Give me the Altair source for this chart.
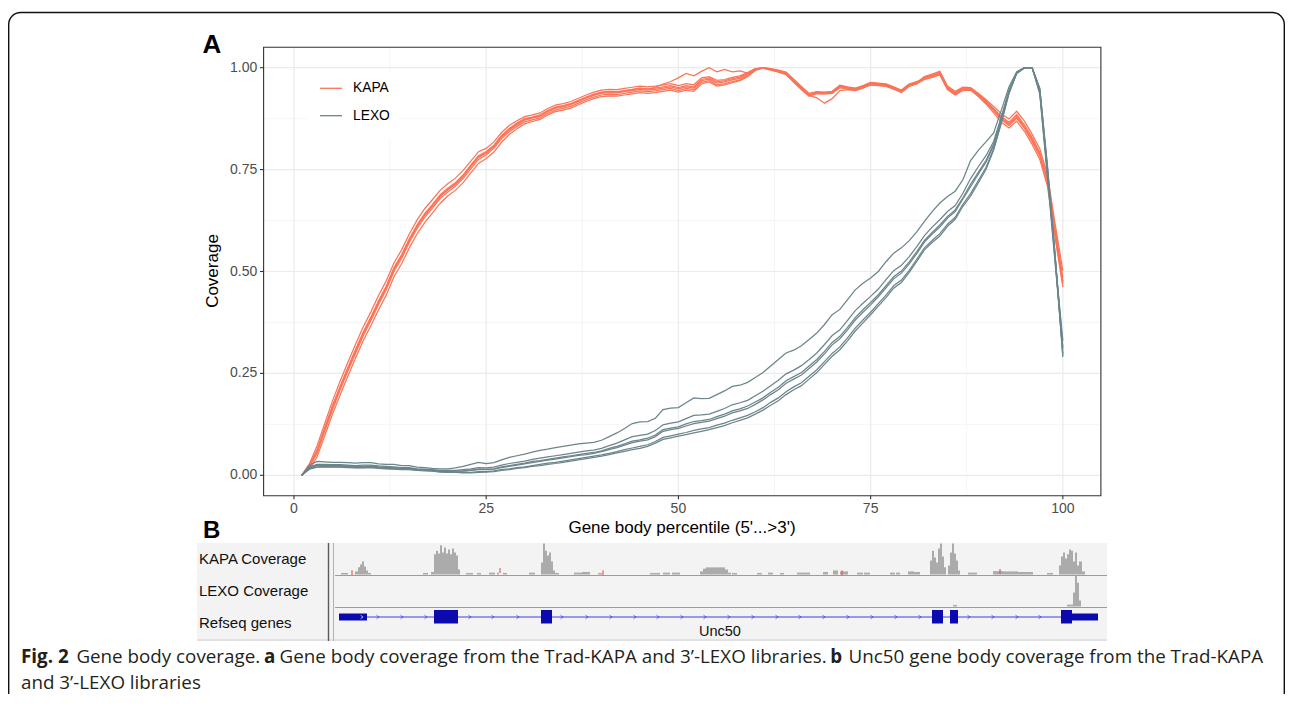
import altair as alt
import pandas as pd

# ---------------- Panel A data: gene body coverage, percentile 1..100 ----------------
pct = list(range(1, 101))

kapa_1 = [0.000,0.022,0.058,0.112,0.166,0.214,0.260,0.304,0.347,0.384,0.424,0.460,0.505,0.537,0.576,0.610,0.638,0.660,0.684,0.700,
          0.714,0.733,0.757,0.780,0.790,0.806,0.830,0.847,0.860,0.871,0.876,0.881,0.892,0.900,0.904,0.909,0.917,0.925,0.932,0.937,
          0.939,0.938,0.941,0.944,0.947,0.945,0.947,0.950,0.953,0.948,0.953,0.950,0.968,0.972,0.962,0.965,0.970,0.974,0.983,0.996,
          1.000,0.996,0.992,0.986,0.968,0.950,0.933,0.938,0.937,0.939,0.954,0.950,0.947,0.953,0.961,0.959,0.957,0.950,0.942,0.957,
          0.963,0.975,0.980,0.987,0.950,0.937,0.948,0.948,0.933,0.917,0.897,0.876,0.862,0.880,0.855,0.823,0.787,0.722,0.597,0.475]
kapa_2 = [0.000,0.028,0.072,0.127,0.182,0.231,0.277,0.321,0.364,0.401,0.441,0.477,0.521,0.553,0.592,0.626,0.654,0.676,0.699,0.715,
          0.729,0.748,0.771,0.794,0.802,0.818,0.841,0.858,0.870,0.880,0.884,0.889,0.900,0.908,0.912,0.917,0.925,0.933,0.940,0.945,
          0.947,0.946,0.949,0.952,0.955,0.953,0.955,0.958,0.961,0.956,0.961,0.958,0.975,0.978,0.969,0.971,0.976,0.980,0.988,0.998,
          0.999,0.994,0.989,0.983,0.964,0.946,0.930,0.936,0.935,0.937,0.951,0.947,0.945,0.951,0.958,0.957,0.955,0.948,0.940,0.955,
          0.961,0.978,0.984,0.991,0.955,0.942,0.952,0.951,0.937,0.922,0.905,0.887,0.874,0.893,0.869,0.837,0.801,0.738,0.616,0.502]
kapa_3 = [0.000,0.016,0.045,0.097,0.150,0.197,0.243,0.287,0.330,0.367,0.406,0.442,0.487,0.519,0.558,0.592,0.620,0.643,0.667,0.685,
          0.699,0.718,0.742,0.765,0.777,0.793,0.817,0.836,0.850,0.862,0.868,0.873,0.884,0.892,0.896,0.901,0.909,0.917,0.924,0.929,
          0.931,0.930,0.933,0.936,0.939,0.937,0.939,0.942,0.945,0.940,0.945,0.942,0.960,0.965,0.955,0.958,0.963,0.968,0.978,0.993,
          1.000,0.998,0.994,0.989,0.972,0.954,0.937,0.941,0.940,0.942,0.957,0.953,0.950,0.956,0.964,0.962,0.960,0.953,0.945,0.960,
          0.966,0.972,0.976,0.982,0.946,0.933,0.944,0.945,0.929,0.911,0.889,0.866,0.852,0.869,0.844,0.812,0.775,0.709,0.582,0.462]
kapa_4 = [0.000,0.024,0.062,0.116,0.170,0.218,0.264,0.308,0.351,0.388,0.428,0.464,0.509,0.541,0.580,0.614,0.642,0.664,0.688,0.704,
          0.718,0.737,0.761,0.784,0.794,0.810,0.834,0.851,0.864,0.875,0.879,0.884,0.895,0.903,0.907,0.912,0.920,0.928,0.935,0.940,
          0.942,0.941,0.944,0.947,0.950,0.948,0.950,0.953,0.956,0.951,0.956,0.953,0.971,0.975,0.965,0.968,0.973,0.977,0.986,0.997,
          1.000,0.997,0.993,0.987,0.970,0.952,0.935,0.940,0.939,0.941,0.956,0.952,0.949,0.955,0.963,0.961,0.959,0.952,0.944,0.959,
          0.965,0.977,0.982,0.989,0.952,0.939,0.950,0.950,0.935,0.919,0.900,0.880,0.866,0.885,0.860,0.829,0.792,0.728,0.604,0.485]
kapa_5 = [0.000,0.020,0.054,0.108,0.161,0.209,0.255,0.299,0.342,0.379,0.419,0.455,0.500,0.532,0.571,0.605,0.633,0.655,0.679,0.695,
          0.709,0.728,0.752,0.775,0.786,0.802,0.826,0.843,0.856,0.867,0.872,0.877,0.888,0.896,0.900,0.905,0.913,0.921,0.928,0.933,
          0.935,0.934,0.937,0.940,0.943,0.941,0.943,0.946,0.949,0.944,0.949,0.946,0.964,0.968,0.958,0.961,0.966,0.970,0.980,0.994,
          0.999,0.995,0.990,0.984,0.966,0.948,0.932,0.926,0.913,0.924,0.944,0.946,0.944,0.950,0.958,0.956,0.954,0.947,0.939,0.954,
          0.960,0.971,0.977,0.984,0.947,0.935,0.946,0.946,0.931,0.914,0.894,0.873,0.858,0.876,0.851,0.819,0.783,0.718,0.591,0.470]
kapa_6 = [0.000,0.023,0.060,0.114,0.168,0.216,0.262,0.306,0.349,0.386,0.426,0.462,0.507,0.539,0.578,0.612,0.640,0.662,0.686,0.702,
          0.716,0.735,0.759,0.782,0.792,0.808,0.832,0.849,0.862,0.873,0.878,0.883,0.894,0.902,0.906,0.911,0.919,0.927,0.934,0.939,
          0.941,0.940,0.943,0.946,0.949,0.947,0.952,0.960,0.966,0.975,0.986,0.980,0.991,1.000,0.990,0.996,0.990,0.992,0.987,0.997,
          1.000,0.996,0.992,0.986,0.968,0.950,0.933,0.938,0.937,0.939,0.954,0.950,0.947,0.953,0.961,0.959,0.957,0.950,0.942,0.957,
          0.963,0.975,0.980,0.987,0.950,0.937,0.948,0.948,0.933,0.917,0.897,0.876,0.862,0.880,0.855,0.823,0.787,0.722,0.597,0.475]

lexo_1 = [0.000,0.025,0.034,0.033,0.032,0.032,0.031,0.030,0.031,0.031,0.028,0.027,0.027,0.024,0.024,0.020,0.019,0.017,0.016,0.016,
          0.018,0.022,0.027,0.032,0.029,0.031,0.038,0.044,0.048,0.052,0.057,0.061,0.064,0.068,0.071,0.074,0.077,0.079,0.081,0.086,
          0.095,0.104,0.115,0.127,0.131,0.132,0.140,0.161,0.165,0.166,0.178,0.190,0.188,0.189,0.198,0.207,0.218,0.221,0.228,0.240,
          0.252,0.268,0.284,0.300,0.307,0.318,0.333,0.349,0.370,0.394,0.407,0.431,0.455,0.471,0.484,0.500,0.524,0.545,0.558,0.575,
          0.597,0.623,0.647,0.668,0.684,0.697,0.725,0.772,0.797,0.818,0.840,0.896,0.953,0.990,1.000,1.000,0.935,0.730,0.520,0.315]
lexo_2 = [0.000,0.021,0.027,0.027,0.026,0.026,0.025,0.024,0.025,0.025,0.023,0.022,0.021,0.019,0.019,0.016,0.015,0.014,0.012,0.012,
          0.012,0.014,0.016,0.019,0.018,0.020,0.025,0.029,0.032,0.035,0.039,0.042,0.045,0.048,0.051,0.054,0.057,0.060,0.062,0.066,
          0.073,0.079,0.087,0.095,0.098,0.101,0.110,0.124,0.128,0.131,0.139,0.147,0.148,0.150,0.157,0.164,0.173,0.178,0.184,0.195,
          0.206,0.220,0.233,0.249,0.258,0.269,0.284,0.300,0.321,0.343,0.357,0.380,0.404,0.422,0.439,0.457,0.480,0.502,0.515,0.536,
          0.561,0.588,0.609,0.627,0.647,0.662,0.692,0.728,0.757,0.784,0.819,0.880,0.945,0.988,1.000,1.000,0.942,0.745,0.530,0.330]
lexo_3 = [0.000,0.018,0.025,0.025,0.024,0.024,0.023,0.022,0.022,0.023,0.021,0.020,0.019,0.017,0.017,0.015,0.014,0.012,0.011,0.010,
          0.010,0.011,0.013,0.015,0.015,0.016,0.021,0.024,0.027,0.030,0.034,0.036,0.039,0.042,0.045,0.048,0.051,0.054,0.056,0.060,
          0.066,0.071,0.077,0.084,0.087,0.091,0.099,0.112,0.116,0.119,0.126,0.132,0.134,0.137,0.144,0.150,0.158,0.163,0.170,0.180,
          0.190,0.204,0.216,0.232,0.242,0.252,0.268,0.284,0.304,0.326,0.341,0.363,0.387,0.406,0.424,0.443,0.465,0.487,0.501,0.523,
          0.549,0.576,0.596,0.614,0.635,0.651,0.681,0.714,0.743,0.772,0.812,0.875,0.942,0.987,1.000,1.000,0.940,0.740,0.528,0.300]
lexo_4 = [0.000,0.017,0.024,0.024,0.023,0.023,0.022,0.021,0.021,0.022,0.020,0.019,0.018,0.017,0.017,0.014,0.013,0.012,0.010,0.009,
          0.010,0.010,0.012,0.014,0.014,0.015,0.019,0.022,0.025,0.028,0.031,0.034,0.037,0.040,0.043,0.046,0.049,0.051,0.054,0.058,
          0.063,0.068,0.074,0.080,0.084,0.087,0.095,0.108,0.112,0.115,0.121,0.127,0.130,0.133,0.139,0.145,0.153,0.158,0.164,0.174,
          0.185,0.198,0.210,0.226,0.236,0.246,0.262,0.278,0.298,0.320,0.335,0.357,0.381,0.400,0.418,0.438,0.460,0.482,0.496,0.518,
          0.544,0.572,0.592,0.609,0.631,0.647,0.678,0.708,0.739,0.768,0.809,0.873,0.941,0.987,1.000,1.000,0.945,0.750,0.535,0.310]
lexo_5 = [0.000,0.016,0.021,0.022,0.021,0.021,0.020,0.019,0.019,0.020,0.018,0.017,0.016,0.015,0.015,0.013,0.012,0.011,0.009,0.008,
          0.008,0.007,0.007,0.009,0.009,0.011,0.014,0.016,0.019,0.021,0.024,0.027,0.030,0.032,0.035,0.038,0.041,0.044,0.047,0.050,
          0.054,0.058,0.063,0.067,0.071,0.075,0.083,0.093,0.097,0.101,0.105,0.110,0.114,0.117,0.123,0.128,0.135,0.141,0.147,0.156,
          0.166,0.179,0.190,0.205,0.217,0.227,0.243,0.259,0.279,0.299,0.315,0.337,0.361,0.381,0.400,0.421,0.442,0.465,0.479,0.502,
          0.530,0.558,0.576,0.593,0.616,0.633,0.665,0.691,0.723,0.755,0.801,0.866,0.938,0.986,0.999,1.000,0.948,0.755,0.538,0.295]
lexo_6 = [0.000,0.015,0.020,0.021,0.020,0.020,0.019,0.018,0.018,0.019,0.017,0.016,0.015,0.014,0.014,0.012,0.011,0.010,0.008,0.007,
          0.007,0.006,0.006,0.007,0.008,0.009,0.012,0.014,0.017,0.019,0.022,0.024,0.027,0.029,0.032,0.035,0.038,0.041,0.044,0.047,
          0.051,0.055,0.059,0.063,0.066,0.071,0.079,0.088,0.092,0.096,0.100,0.104,0.108,0.112,0.117,0.122,0.129,0.135,0.141,0.150,
          0.160,0.172,0.183,0.198,0.210,0.220,0.236,0.252,0.272,0.292,0.308,0.330,0.354,0.374,0.394,0.415,0.436,0.459,0.473,0.497,
          0.525,0.553,0.571,0.587,0.611,0.628,0.660,0.685,0.717,0.750,0.798,0.864,0.937,0.986,0.999,1.000,0.950,0.760,0.540,0.290]

libraries = ["KAPA", "LEXO"]
lib_colors = ["#FA7458", "#6B858B"]

x_major = [0, 25, 50, 75, 100]
x_minor = [12.5, 37.5, 62.5, 87.5]
x_labels = ["0", "25", "50", "75", "100"]
y_major = [0.0, 0.25, 0.5, 0.75, 1.0]
y_minor = [0.125, 0.375, 0.625, 0.875]
y_labels = ["0.00", "0.25", "0.50", "0.75", "1.00"]

# ---------------- Panel B data: genome browser tracks (relative position) ----------------
kapa_cov_start = [6,20,23,25,27,29,31,33,88,96,99,101,103,105,107,109,111,113,115,117,119,121,123,131,142,154,162,168,194,
                  206,208,210,212,214,216,218,220,239,247,263,315,328,337,365,368,371,390,393,397,422,433,445,462,468,488,498,
                  505,522,529,555,561,573,579,595,597,599,601,603,605,607,609,613,615,617,619,621,623,633,658,668,683,712,
                  724,726,728,730,732,734,736,738,740,742,744,747]
kapa_cov_end = [13,23,25,27,29,31,33,36,93,99,101,103,105,107,109,111,113,115,117,119,121,123,125,138,146,160,164,172,200,
                208,210,212,214,216,218,220,224,247,255,267,325,335,345,368,371,390,393,396,402,427,438,449,468,475,493,503,
                513,528,535,560,565,579,585,597,599,601,603,605,607,609,611,615,617,619,621,623,625,642,668,683,698,718,
                726,728,730,732,734,736,738,740,742,744,747,750]
kapa_cov_h = [0.05,0.10,0.23,0.32,0.42,0.26,0.13,0.05,0.05,0.08,0.65,0.77,0.68,0.94,0.71,0.87,0.68,0.81,0.65,0.84,0.71,0.61,0.16,
              0.05,0.05,0.06,0.06,0.05,0.06,0.39,1.00,0.77,0.61,0.71,0.42,0.13,0.05,0.06,0.08,0.05,0.05,0.06,0.06,0.10,0.19,
              0.23,0.16,0.06,0.05,0.05,0.06,0.05,0.06,0.06,0.08,0.13,0.10,0.06,0.06,0.06,0.06,0.10,0.08,0.45,0.77,0.55,0.39,
              0.84,1.00,0.58,0.23,0.29,0.71,1.00,0.68,0.45,0.13,0.06,0.11,0.10,0.08,0.05,0.29,0.58,0.71,0.52,0.65,0.81,0.77,
              0.42,0.71,0.29,0.42,0.10]
kapa_mis_pos = [17, 165, 268, 507, 665]
kapa_mis_h = [0.06, 0.13, 0.06, 0.06, 0.10]
lexo_cov_start = [618, 732, 738, 740, 742, 744]
lexo_cov_end = [622, 738, 740, 742, 744, 746]
lexo_cov_h = [0.05, 0.06, 0.45, 1.00, 0.77, 0.19]
utr_start = [4, 737]
utr_end = [32, 763]
exon_start = [99, 206, 597, 615, 726]
exon_end = [123, 217, 608, 623, 737]
intron_start = [32]
intron_end = [726]
strand_marks = [43, 67, 91, 135, 158, 183, 227, 252, 276, 300, 323, 347, 370, 394, 418, 442, 465, 489, 513, 537,
                561, 585, 634, 658, 682, 705]
track_names = ["KAPA Coverage", "LEXO Coverage", "Refseq genes"]

caption_parts = ["Fig. 2", "Gene body coverage.", "a",
                 "Gene body coverage from the Trad-KAPA and 3\u2019-LEXO libraries.", "b",
                 "Unc50 gene body coverage from the Trad-KAPA", "and 3\u2019-LEXO libraries"]

# ---------------- tables ----------------
rows = []
for lib, names in (("KAPA", [kapa_1, kapa_2, kapa_3, kapa_4, kapa_5, kapa_6]),
                   ("LEXO", [lexo_1, lexo_2, lexo_3, lexo_4, lexo_5, lexo_6])):
    for i, ser in enumerate(names):
        for p, v in zip(pct, ser):
            rows.append({"pct": p, "cov": v, "lib": lib, "sample": f"{lib}{i+1}"})
cov_df = pd.DataFrame(rows)

one = pd.DataFrame({"k": [0]})

W, H = 1277, 686
FONT = "Liberation Sans"

xA = alt.Scale(domain=[-3.95, 104.95], range=[255.6, 1092.9], nice=False, zero=False)
yA = alt.Scale(domain=[-0.05, 1.05], range=[487.7, 39.3], nice=False, zero=False)
xB = alt.Scale(domain=[0, 770], range=[327, 1097], nice=False, zero=False)
yK = alt.Scale(domain=[0, 1], range=[566.5, 535.5], nice=False, zero=False)
yL = alt.Scale(domain=[0, 1], range=[598.5, 567.5], nice=False, zero=False)
cA = alt.Scale(domain=libraries, range=lib_colors)


def box(x, x2, y, y2, **kw):
    return alt.Chart(one).mark_rect(**kw).encode(
        x=alt.value(x), x2=alt.value(x2), y=alt.value(y), y2=alt.value(y2))


def hline(x, x2, y, **kw):
    return alt.Chart(one).mark_rule(**kw).encode(
        x=alt.value(x), x2=alt.value(x2), y=alt.value(y))


def vline(x, y, y2, **kw):
    return alt.Chart(one).mark_rule(**kw).encode(
        x=alt.value(x), y=alt.value(y), y2=alt.value(y2))


def label(s, x, y, **kw):
    return alt.Chart(one).mark_text(text=s, **kw).encode(x=alt.value(x), y=alt.value(y))


layers = []

# ---- Panel A ----
layers.append(box(255.6, 1092.9, 39.3, 487.7, fill="white"))
layers.append(alt.Chart(pd.DataFrame({"v": x_minor})).mark_rule(color="#F0F0F0", strokeWidth=0.7).encode(
    x=alt.X("v:Q", scale=xA, axis=None), y=alt.value(39.3), y2=alt.value(487.7)))
layers.append(alt.Chart(pd.DataFrame({"v": y_minor})).mark_rule(color="#F0F0F0", strokeWidth=0.7).encode(
    y=alt.Y("v:Q", scale=yA, axis=None), x=alt.value(255.6), x2=alt.value(1092.9)))
layers.append(alt.Chart(pd.DataFrame({"v": x_major})).mark_rule(color="#EBEBEB", strokeWidth=1.2).encode(
    x=alt.X("v:Q", scale=xA, axis=None), y=alt.value(39.3), y2=alt.value(487.7)))
layers.append(alt.Chart(pd.DataFrame({"v": y_major})).mark_rule(color="#EBEBEB", strokeWidth=1.2).encode(
    y=alt.Y("v:Q", scale=yA, axis=None), x=alt.value(255.6), x2=alt.value(1092.9)))

for lib in libraries:
    layers.append(alt.Chart(cov_df[cov_df["lib"] == lib]).mark_line(strokeWidth=1.25).encode(
        x=alt.X("pct:Q", scale=xA, axis=None),
        y=alt.Y("cov:Q", scale=yA, axis=None),
        color=alt.Color("lib:N", scale=cA, legend=None),
        detail="sample:N"))

layers.append(box(255.6, 1092.9, 39.3, 487.7, fill=None, stroke="#333333", strokeWidth=1.1))

# ticks and tick labels
layers.append(alt.Chart(pd.DataFrame({"v": x_major})).mark_rule(color="#333333", strokeWidth=1.1).encode(
    x=alt.X("v:Q", scale=xA, axis=None), y=alt.value(487.7), y2=alt.value(491.3)))
layers.append(alt.Chart(pd.DataFrame({"v": y_major})).mark_rule(color="#333333", strokeWidth=1.1).encode(
    y=alt.Y("v:Q", scale=yA, axis=None), x=alt.value(252.0), x2=alt.value(255.6)))
layers.append(alt.Chart(pd.DataFrame({"v": x_major, "t": x_labels})).mark_text(
    font=FONT, fontSize=14, color="#4D4D4D", baseline="middle", align="center").encode(
    x=alt.X("v:Q", scale=xA, axis=None), y=alt.value(500.5), text="t:N"))
layers.append(alt.Chart(pd.DataFrame({"v": y_major, "t": y_labels})).mark_text(
    font=FONT, fontSize=14, color="#4D4D4D", baseline="middle", align="right").encode(
    y=alt.Y("v:Q", scale=yA, axis=None), x=alt.value(249.2), text="t:N"))

layers.append(label("Gene body percentile (5'...>3')", 674, 520, font=FONT, fontSize=17,
                    color="#000000", align="center", baseline="middle"))
layers.append(label("Coverage", 205, 263, font=FONT, fontSize=17, color="#000000",
                    align="center", baseline="middle", angle=270))

# legend
layers.append(box(299, 390, 65, 132, fill="white"))
legend_y = [80.3, 107.7]
for lib, col, ly in zip(libraries, lib_colors, legend_y):
    layers.append(hline(312, 334, ly, color=col, strokeWidth=1.3))
    layers.append(label(lib, 345, ly, font=FONT, fontSize=13.8, color="#000000",
                        align="left", baseline="middle"))

# panel letters
layers.append(label("A", 204, 45.3, font=FONT, fontSize=26, fontWeight="bold", color="#000000",
                    align="center", baseline="alphabetic"))
layers.append(label("B", 203.7, 530.3, font=FONT, fontSize=24, fontWeight="bold", color="#000000",
                    align="center", baseline="alphabetic"))

# ---- Panel B ----
layers.append(box(189, 1099, 535, 633, fill="#F3F3F3"))
layers.append(hline(327, 1099, 567.5, color="#9C9C9C", strokeWidth=1))
layers.append(hline(327, 1099, 599.5, color="#9C9C9C", strokeWidth=1))
layers.append(hline(189, 1099, 632, color="#D0D0D0", strokeWidth=1))
layers.append(vline(320.5, 535, 633, color="#5A5A5A", strokeWidth=1.4))
layers.append(vline(325.5, 535, 633, color="#B0B0B0", strokeWidth=1))

layers.append(alt.Chart(pd.DataFrame({"s": kapa_cov_start, "e": kapa_cov_end, "h": kapa_cov_h})).mark_rect(
    color="#ABABAB").encode(
    x=alt.X("s:Q", scale=xB, axis=None), x2="e:Q",
    y=alt.Y("h:Q", scale=yK, axis=None), y2=alt.datum(0)))
layers.append(alt.Chart(pd.DataFrame({"s": kapa_mis_pos, "h": kapa_mis_h})).mark_tick(
    color="#D9534F", thickness=1.5, orient="vertical").encode(
    x=alt.X("s:Q", scale=xB, axis=None), y=alt.Y("h:Q", scale=yK, axis=None)))
layers.append(alt.Chart(pd.DataFrame({"s": lexo_cov_start, "e": lexo_cov_end, "h": lexo_cov_h})).mark_rect(
    color="#ABABAB").encode(
    x=alt.X("s:Q", scale=xB, axis=None), x2="e:Q",
    y=alt.Y("h:Q", scale=yL, axis=None), y2=alt.datum(0)))

layers.append(alt.Chart(pd.DataFrame({"s": intron_start, "e": intron_end})).mark_rule(
    color="#3C3CE6", strokeWidth=1).encode(
    x=alt.X("s:Q", scale=xB, axis=None), x2="e:Q", y=alt.value(609)))
layers.append(alt.Chart(pd.DataFrame({"s": strand_marks})).mark_point(
    shape="M -0.8 -1 L 0.6 0 L -0.8 1", filled=False, color="#3C3CE6", size=14, strokeWidth=1).encode(
    x=alt.X("s:Q", scale=xB, axis=None), y=alt.value(609)))
layers.append(alt.Chart(pd.DataFrame({"s": utr_start, "e": utr_end})).mark_rect(color="#0A0AB0").encode(
    x=alt.X("s:Q", scale=xB, axis=None), x2="e:Q", y=alt.value(605.5), y2=alt.value(612.5)))
layers.append(alt.Chart(pd.DataFrame({"s": exon_start, "e": exon_end})).mark_rect(color="#0A0AB0").encode(
    x=alt.X("s:Q", scale=xB, axis=None), x2="e:Q", y=alt.value(602), y2=alt.value(615.5)))
layers.append(alt.Chart(pd.DataFrame({"s": [27]})).mark_point(
    shape="M -0.8 -1 L 0.6 0 L -0.8 1", filled=False, color="#FFFFFF", size=12, strokeWidth=1).encode(
    x=alt.X("s:Q", scale=xB, axis=None), y=alt.value(609)))

track_y = [556, 588, 620]
for name, ty in zip(track_names, track_y):
    layers.append(label(name, 191, ty, font=FONT, fontSize=15, color="#111111", align="left",
                        baseline="alphabetic"))
layers.append(label("Unc50", 691, 628, font=FONT, fontSize=14.5, color="#111111", align="left",
                    baseline="alphabetic"))

# ---- caption ----
CF = "Open Sans"
cap_x = [13, 68.4, 256.1, 271.5, 822.3, 840.6, 13]
cap_y = [655.0, 655.0, 655.0, 655.0, 655.0, 655.0, 680.5]
cap_w = ["bold", "normal", "bold", "normal", "bold", "normal", "normal"]
for s, cx, cy, wt in zip(caption_parts, cap_x, cap_y, cap_w):
    layers.append(label(s, cx, cy, font=CF, fontSize=18.8, fontWeight=wt, color="#231F20",
                        align="left", baseline="alphabetic"))

# ---- figure border ----
layers.append(alt.Chart(one).mark_rect(fill=None, stroke="#111111", strokeWidth=1.4, cornerRadius=12,
                                       clip=True).encode(
    x=alt.value(0.7), x2=alt.value(1276.3), y=alt.value(4.5), y2=alt.value(740)))

chart = alt.layer(*layers).resolve_scale(
    x="independent", y="independent", color="independent"
).properties(
    width=W, height=H, padding=0, autosize=alt.AutoSizeParams(type="none"),
    background="white"
).configure_view(strokeWidth=0)

chart.save("out.html", embed_options={"renderer": "svg", "actions": False})
